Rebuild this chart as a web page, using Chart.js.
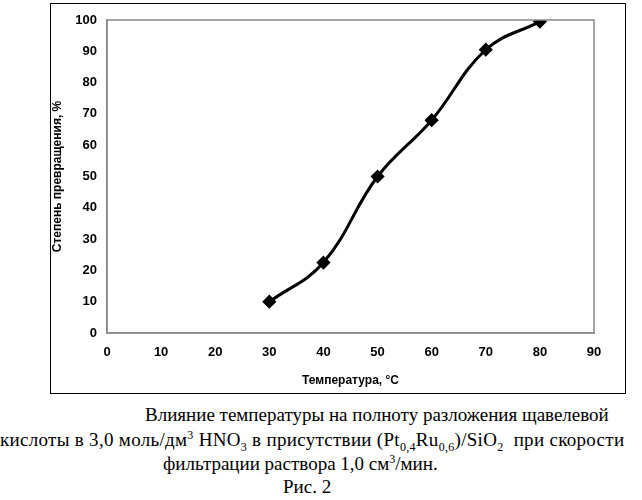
<!DOCTYPE html>
<html><head><meta charset="utf-8">
<script src="https://cdn.jsdelivr.net/npm/chart.js@4"></script>
<style>
body{margin:0;background:#fff;width:642px;height:500px;position:relative;overflow:hidden}
#frame{position:absolute;left:50px;top:3px;width:574px;height:389px;border:1.5px solid #000}
canvas{position:absolute;left:0;top:0}
.cap{position:absolute;font-family:"Liberation Serif",serif;font-size:19px;color:#000;white-space:nowrap}
</style></head><body>
<div id="frame"></div>
<canvas id="c" width="642" height="400" style="width:642px;height:400px"></canvas>
<div class="cap" style="left:145px;top:404px">Влияние температуры на полноту разложения щавелевой</div>
<div class="cap" style="left:0px;top:428px;letter-spacing:0.3px">кислоты в 3,0 моль/дм<sup style="font-size:12px">3</sup> HNO<sub style="font-size:12px">3</sub> в присутствии (Pt<sub style="font-size:12px">0,4</sub>Ru<sub style="font-size:12px">0,6</sub>)/SiO<sub style="font-size:12px">2</sub>&nbsp; при скорости</div>
<div class="cap" style="left:163px;top:452px">фильтрации раствора 1,0 см<sup style="font-size:12px">3</sup>/мин.</div>
<div class="cap" style="left:283px;top:476px">Рис. 2</div>
<script>
const temps=[30,40,50,60,70,80];
const conv=[10,22.5,50,68,90.5,99.5];
const xTicks=[0,10,20,30,40,50,60,70,80,90];
const yTicks=[0,10,20,30,40,50,60,70,80,90,100];
const font={family:"Liberation Sans, Arial",size:13,weight:'bold'};
new Chart(document.getElementById('c'),{
type:'scatter',
data:{datasets:[{data:temps.map((t,i)=>({x:t,y:conv[i]})),showLine:true,tension:0.4,
borderColor:'#000',borderWidth:3,pointStyle:'rectRot',pointRadius:5,pointBackgroundColor:'#000',pointBorderColor:'#000'}]},
options:{responsive:false,animation:false,
layout:{padding:{left:50,top:20,right:48,bottom:8}},
plugins:{legend:{display:false},tooltip:{enabled:false}},
scales:{
x:{type:'linear',min:0,max:90,afterBuildTicks:s=>{s.ticks=xTicks.map(v=>({value:v}))},
afterFit:s=>{s.height=59},
grid:{display:false,drawTicks:false},border:{color:'#888',width:1.5},
ticks:{color:'#000',font,padding:12},
title:{display:true,text:'Температура, °C',color:'#000',font:{family:"Liberation Sans, Arial",size:12,weight:'bold'}}},
y:{min:0,max:100,afterBuildTicks:s=>{s.ticks=yTicks.map(v=>({value:v}))},
afterFit:s=>{s.width=57},
grid:{display:false,drawTicks:false},border:{color:'#888',width:1.5},
ticks:{color:'#000',font,padding:10},
title:{display:true,text:'Степень превращения, %',color:'#000',font:{family:"Liberation Sans, Arial",size:12,weight:'bold'},padding:0}}
}},
plugins:[{id:'box',afterDraw(c){const a=c.chartArea,x=c.ctx;x.save();x.strokeStyle='#888';x.lineWidth=1.5;x.strokeRect(a.left,a.top,a.right-a.left,a.bottom-a.top);x.restore();}}]
});
</script>
</body></html>
